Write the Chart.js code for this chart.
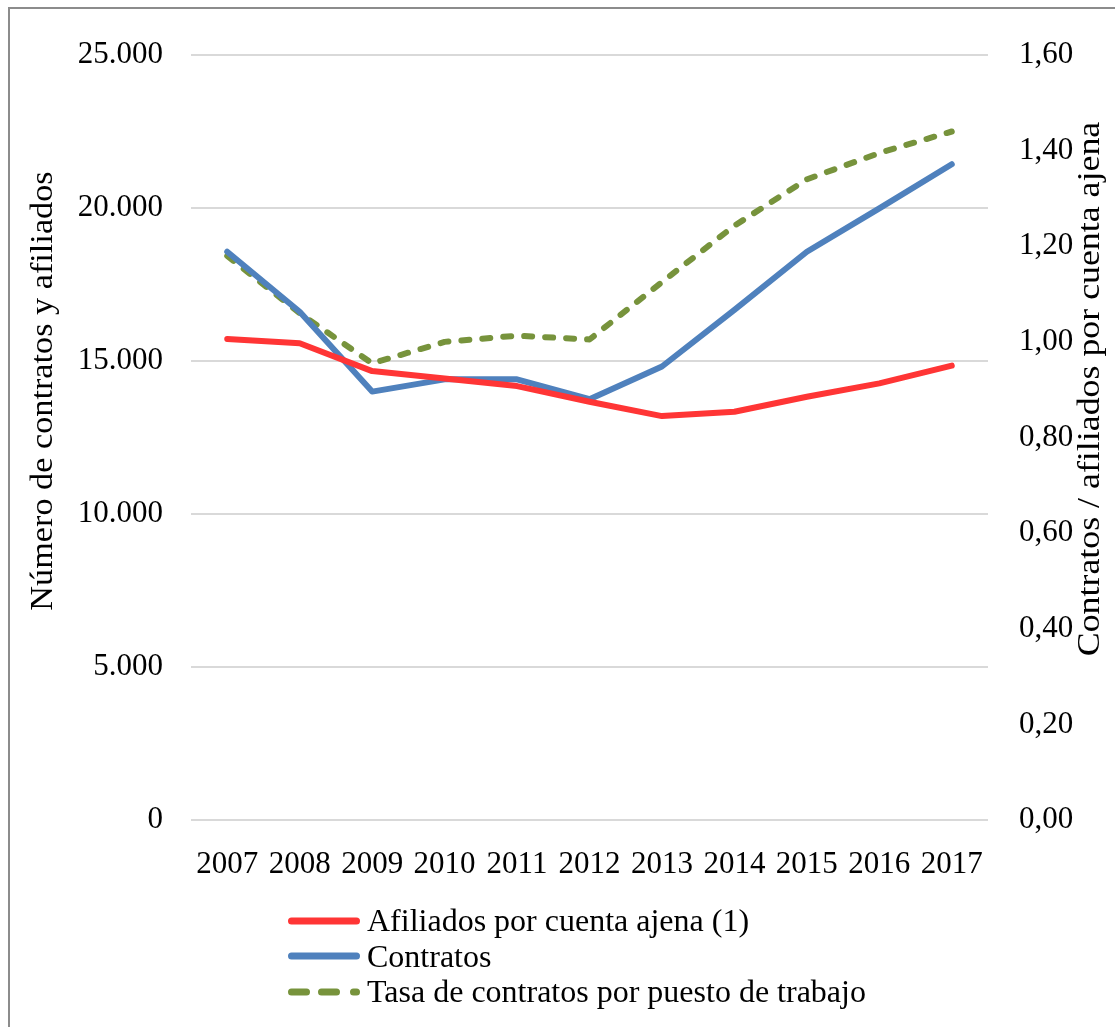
<!DOCTYPE html>
<html lang="es">
<head>
<meta charset="UTF-8">
<title>Contratos y afiliados 2007-2017</title>
<script src="https://cdn.jsdelivr.net/npm/chart.js"></script>
<style>
    body {
        margin: 0;
        background: #fff;
        font-family: "Liberation Serif", "Times New Roman", serif;
    }

    #frame {
        position: absolute;
        left: 8px;
        top: 7px;
        width: 1120px;
        height: 1040px;
        border: 2px solid #8c8c8c;
        box-sizing: border-box;
    }

    #wrap {
        position: absolute;
        left: 0;
        top: 0;
        width: 1115px;
        height: 1027px;
    }

    #legend {
        position: absolute;
        left: 285px;
        top: 903px;
        font-size: 32px;
        color: #000;
    }

    .item {
        display: flex;
        align-items: center;
        height: 35.5px;
        white-space: nowrap;
    }

    .item svg {
        margin-right: 6px;
    }
</style>
</head>
<body>
<div id="frame"></div>
<div id="wrap"><canvas id="chart"></canvas></div>
<div id="legend"></div>

<script>
    // años y series
    const years = ['2007', '2008', '2009', '2010', '2011', '2012', '2013', '2014', '2015', '2016', '2017'];
    const afiliados = [15720, 15580, 14670, 14430, 14180, 13670, 13200, 13340, 13830, 14270, 14850];
    const contratos = [18570, 16610, 14000, 14400, 14400, 13750, 14820, 16670, 18570, 19990, 21430];
    const tasa = [1.18, 1.06, 0.955, 1.00, 1.013, 1.005, 1.125, 1.243, 1.34, 1.395, 1.44];

    const seriesNames = ['Afiliados por cuenta ajena (1)', 'Contratos', 'Tasa de contratos por puesto de trabajo'];
    const leftTitle = 'Número de contratos y afiliados';
    const rightTitle = 'Contratos / afiliados por cuenta ajena';

    // ejes: 0 - 25.000 (izq) y 0,00 - 1,60 (dcha)
    const leftMax = 25000, leftStep = 5000;
    const rightMax = 1.6, rightStep = 0.2;

    const font = '"Liberation Serif", "Times New Roman", serif';

    const fmtMiles = v => String(Math.round(v)).replace(/\B(?=(\d{3})+(?!\d))/g, '.');
    const fmtRatio = v => v.toFixed(2).replace('.', ',');

    // títulos de los ejes, girados y leídos de abajo arriba (algo estirados a lo largo)
    const axisTitles = {
        id: 'axisTitles',
        afterDraw(chart) {
            const ctx = chart.ctx;
            ctx.save();
            ctx.font = '32px ' + font;
            ctx.fillStyle = '#000';
            ctx.textAlign = 'center';
            ctx.textBaseline = 'middle';
            [[leftTitle, 44, 391, 1.07], [rightTitle, 1091, 389, 1.12]].forEach(([text, x, y, stretch]) => {
                ctx.save();
                ctx.translate(x, y);
                ctx.rotate(-Math.PI / 2);
                ctx.scale(stretch, 1);
                ctx.fillText(text, 0, 0);
                ctx.restore();
            });
            ctx.restore();
        }
    };

    const chart = new Chart(document.getElementById('chart'), {
        type: 'line',
        data: {
            labels: years,
            datasets: [
                {
                    label: seriesNames[0],
                    data: afiliados,
                    borderColor: '#ff3535',
                    yAxisID: 'y',
                    borderWidth: 6,
                    borderCapStyle: 'round',
                    borderJoinStyle: 'round'
                },
                {
                    label: seriesNames[1],
                    data: contratos,
                    borderColor: '#4f81bd',
                    yAxisID: 'y',
                    borderWidth: 6,
                    borderCapStyle: 'round',
                    borderJoinStyle: 'round'
                },
                {
                    label: seriesNames[2],
                    data: tasa,
                    borderColor: '#77933c',
                    yAxisID: 'y1',
                    borderWidth: 6,
                    borderDash: [8, 13],
                    borderCapStyle: 'round',
                    borderJoinStyle: 'round'
                }
            ]
        },
        options: {
            responsive: true,
            maintainAspectRatio: false,
            animation: false,
            elements: {
                point: { radius: 0 },
                line: { tension: 0, fill: false }
            },
            layout: { padding: { top: 55, left: 0, right: 0, bottom: 0 } },
            plugins: {
                legend: { display: false },
                tooltip: { enabled: false }
            },
            scales: {
                x: {
                    offset: true,
                    grid: { display: false },
                    border: { display: false },
                    ticks: {
                        color: '#000',
                        font: { family: font, size: 31 },
                        maxRotation: 0,
                        autoSkip: false,
                        padding: 18
                    },
                    afterFit: s => { s.height = 207; }
                },
                y: {
                    position: 'left',
                    min: 0,
                    max: leftMax,
                    border: { display: false },
                    grid: { color: '#d9d9d9', lineWidth: 2, drawTicks: false },
                    ticks: {
                        stepSize: leftStep,
                        color: '#000',
                        font: { family: font, size: 31 },
                        padding: 28,
                        callback: v => fmtMiles(v)
                    },
                    afterFit: s => { s.width = 191; }
                },
                y1: {
                    position: 'right',
                    min: 0,
                    max: rightMax,
                    border: { display: false },
                    grid: { drawOnChartArea: false, drawTicks: false },
                    ticks: {
                        stepSize: rightStep,
                        color: '#000',
                        font: { family: font, size: 31 },
                        padding: 31,
                        callback: v => fmtRatio(v)
                    },
                    afterFit: s => { s.width = 127; }
                }
            }
        },
        plugins: [axisTitles]
    });

    // leyenda en columna, con una muestra de línea por serie
    const legend = document.getElementById('legend');
    chart.data.datasets.forEach(ds => {
        const row = document.createElement('div');
        row.className = 'item';
        const stroke = ds.borderColor;
        const sample = ds.borderDash
            ? `<path d="M6.5 6 L21.5 6 M36.5 6 L51.5 6 M68.5 6 L71.5 6" stroke="${stroke}" stroke-width="7" stroke-linecap="round" fill="none"/>`
            : `<line x1="6.5" y1="6" x2="71.5" y2="6" stroke="${stroke}" stroke-width="7" stroke-linecap="round"/>`;
        row.innerHTML = `<svg width="76" height="12">${sample}</svg><span>${ds.label}</span>`;
        legend.appendChild(row);
    });
</script>
</body>
</html>
